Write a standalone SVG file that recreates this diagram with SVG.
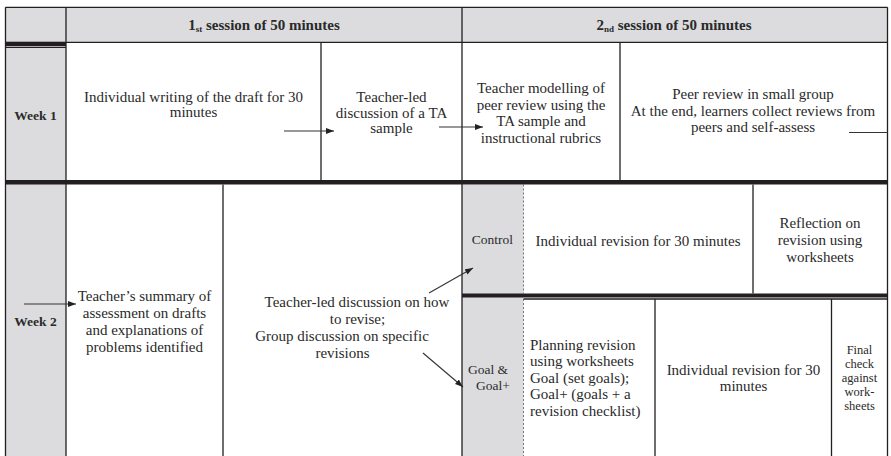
<svg xmlns="http://www.w3.org/2000/svg" width="891" height="456" viewBox="0 0 891 456">
<style>
.bg{fill:#fff}
.gray{fill:#dcdcde}
.ln{stroke:#231f20;stroke-width:1.3;fill:none}
.bar{fill:#231f20}
.dash{stroke:#555;stroke-width:0.8;stroke-dasharray:2 2;fill:none}
.t{font-family:"Liberation Serif","Times New Roman",serif;font-size:15px;fill:#2a2a2a;text-anchor:middle}
.tl{text-anchor:start}
.h{font-weight:bold}
.lab{font-size:13.5px}
.sm{font-size:12.5px}
.sub{font-size:9px}
.arr{stroke:#333;stroke-width:1.1;fill:none}
</style>
<defs>
<marker id="ah" viewBox="0 0 8 6" refX="8" refY="3" markerWidth="8" markerHeight="6" markerUnits="userSpaceOnUse" orient="auto">
<path d="M0,0 L8,3 L0,6 z" fill="#222"/>
</marker>
</defs>
<rect class="bg" x="0" y="0" width="891" height="456"/>

<g id="grid">
<rect class="gray" x="5.5" y="7.3" width="882" height="35"/>
<rect class="gray" x="5.5" y="42.3" width="60.5" height="414"/>
<rect class="gray" x="462" y="184.5" width="61.5" height="272"/>
<path class="ln" d="M5.5,7.3 H887.5 M5.5,7.3 V456 M887.5,7.3 V456 M66,7.3 V456 M66,42.3 H887.5 M5.5,47.3 H66 M321,42.3 V180 M462,7.3 V456 M620,42.3 V180 M223,184.5 V456 M753,184.5 V293.5 M523.5,299 H887.5 M655,299 V456 M831.5,299 V456"/>
<rect class="bar" x="5.5" y="41.7" width="60.5" height="4.3"/>
<rect class="bar" x="5.5" y="180" width="882" height="4.5"/>
<rect class="bar" x="462" y="293.5" width="425.5" height="4"/>
<path class="dash" d="M523.5,184.5 V293.5 M523.5,299 V456"/>
</g>

<g id="header1">
<text class="t h" x="264" y="29.5">1<tspan class="sub" dy="2">st</tspan><tspan dy="-2"> session of 50 minutes</tspan></text>
</g>
<g id="header2">
<text class="t h" x="674" y="29.5">2<tspan class="sub" dy="2">nd</tspan><tspan dy="-2"> session of 50 minutes</tspan></text>
</g>

<g id="week1-label">
<text class="t h lab" x="35.5" y="119.5">Week 1</text>
</g>
<g id="week2-label">
<text class="t h lab" x="35.5" y="326">Week 2</text>
</g>

<g id="w1-draft">
<text class="t" x="193.5" y="101.7">Individual writing of the draft for 30</text>
<text class="t" x="193.5" y="117.3">minutes</text>
</g>
<g id="w1-ta-discussion">
<text class="t" x="391.5" y="101.7">Teacher-led</text>
<text class="t" x="391.5" y="117.5">discussion of a TA</text>
<text class="t" x="391.5" y="133.3">sample</text>
</g>
<g id="w1-modelling">
<text class="t" x="541" y="93.3">Teacher modelling of</text>
<text class="t" x="541" y="109.7">peer review using the</text>
<text class="t" x="541" y="126.1">TA sample and</text>
<text class="t" x="541" y="142.5">instructional rubrics</text>
</g>
<g id="w1-peer-review">
<text class="t" x="753" y="99">Peer review in small group</text>
<text class="t" x="753" y="115.7">At the end, learners collect reviews from</text>
<text class="t" x="753" y="132.3">peers and self-assess</text>
</g>

<g id="w2-summary">
<text class="t" x="144.5" y="300.7">Teacher’s summary of</text>
<text class="t" x="144.5" y="317.7">assessment on drafts</text>
<text class="t" x="144.5" y="334.7">and explanations of</text>
<text class="t" x="144.5" y="351.7">problems identified</text>
</g>
<g id="w2-discussion">
<text class="t" x="357" y="307.3">Teacher-led discussion on how</text>
<text class="t" x="357.5" y="324.3">to revise;</text>
<text class="t" x="342" y="341.3">Group discussion on specific</text>
<text class="t" x="342.5" y="358.3">revisions</text>
</g>

<g id="control-label">
<text class="t lab" x="492.5" y="244">Control</text>
</g>
<g id="control-revision">
<text class="t" x="638" y="245.5">Individual revision for 30 minutes</text>
</g>
<g id="control-reflection">
<text class="t" x="820" y="227.5">Reflection on</text>
<text class="t" x="820" y="244.5">revision using</text>
<text class="t" x="820" y="261.5">worksheets</text>
</g>

<g id="goal-label">
<text class="t lab" x="488" y="374">Goal &amp;</text>
<text class="t lab" x="493" y="389.5">Goal+</text>
</g>
<g id="goal-planning">
<text class="t tl" x="530" y="350">Planning revision</text>
<text class="t tl" x="530" y="366.4">using worksheets</text>
<text class="t tl" x="530" y="382.8">Goal (set goals);</text>
<text class="t tl" x="530" y="399.2">Goal+ (goals + a</text>
<text class="t tl" x="530" y="415.6">revision checklist)</text>
</g>
<g id="goal-revision">
<text class="t" x="743.5" y="375">Individual revision for 30</text>
<text class="t" x="743.5" y="391">minutes</text>
</g>
<g id="goal-final-check">
<text class="t sm" x="859.5" y="354">Final</text>
<text class="t sm" x="859.5" y="368">check</text>
<text class="t sm" x="859.5" y="382">against</text>
<text class="t sm" x="859.5" y="396">work-</text>
<text class="t sm" x="859.5" y="410">sheets</text>
</g>

<g id="connectors">
<line class="arr" x1="284" y1="131" x2="334" y2="131" marker-end="url(#ah)"/>
<line class="arr" x1="439" y1="127" x2="483" y2="127" marker-end="url(#ah)"/>
<line class="arr" x1="849" y1="132.5" x2="887.5" y2="132.5"/>
<line class="arr" x1="24" y1="304" x2="76" y2="304" marker-end="url(#ah)"/>
<line class="arr" x1="429" y1="293" x2="473" y2="268" marker-end="url(#ah)"/>
<line class="arr" x1="423" y1="353" x2="463" y2="387" marker-end="url(#ah)"/>
</g>
</svg>
